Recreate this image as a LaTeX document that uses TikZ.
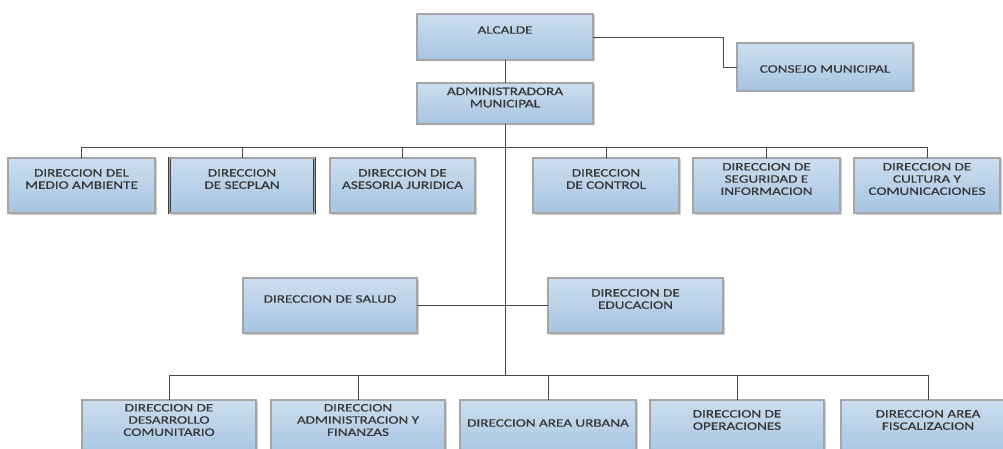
\documentclass[tikz,border=0pt]{standalone}
\usepackage{fontspec}
\newfontfamily\boxfont[FakeStretch=1.33,FakeBold=0.6]{Carlito}
\usetikzlibrary{shadows}
\definecolor{boxtop}{RGB}{204,222,239}
\definecolor{boxbot}{RGB}{166,196,225}
\definecolor{edge}{RGB}{62,62,62}
\definecolor{edgemid}{RGB}{165,165,165}
\definecolor{wirecol}{RGB}{70,70,70}
\definecolor{ink}{RGB}{55,55,55}
\tikzset{
  orgbox/.style={rectangle, inner sep=0pt, top color=boxtop, bottom color=boxbot,
    draw=edge, line width=0.85pt, double=edgemid, double distance=1.2pt,
    drop shadow={shadow xshift=1.5pt, shadow yshift=-1.5pt, opacity=0.3, fill=black!60}},
  orgtext/.style={align=center, text=ink, inner sep=0pt,
    font=\boxfont\fontsize{11.4}{12.2}\selectfont},
  wire/.style={draw=wirecol, line width=0.8pt}
}
\begin{document}
\begin{tikzpicture}[x=1pt, y=-1pt]
\useasboundingbox (0,0) rectangle (1003,449);
\clip (0,0) rectangle (1003,449);
\fill[white] (0,0) rectangle (1003,449);

% top level
\node[orgbox, minimum width=176pt, minimum height=46pt] (alc) at (505,37) {};
\node[orgbox, minimum width=176pt, minimum height=48pt] (cons) at (825,67) {};
\node[orgbox, minimum width=176pt, minimum height=41pt] (adm) at (505,103.5) {};

% first row of directorates
\node[orgbox, minimum width=147pt, minimum height=55pt] (amb) at (81.5,185.5) {};
\node[orgbox, minimum width=145pt, minimum height=55pt] (sec) at (242,185.5) {};
\node[orgbox, minimum width=145pt, minimum height=55pt] (jur) at (402.5,185.5) {};
\node[orgbox, minimum width=146pt, minimum height=55pt] (ctl) at (606,185.5) {};
\node[orgbox, minimum width=147pt, minimum height=55pt] (seg) at (766.5,185.5) {};
\node[orgbox, minimum width=146pt, minimum height=55pt] (cul) at (927,185.5) {};

% health and education
\node[orgbox, minimum width=174pt, minimum height=55pt] (sal) at (330,305.5) {};
\node[orgbox, minimum width=175pt, minimum height=55pt] (edu) at (635.5,305.5) {};

% bottom row
\node[orgbox, minimum width=174pt, minimum height=55pt] (des) at (169,427.5) {};
\node[orgbox, minimum width=174pt, minimum height=55pt] (fin) at (358,427.5) {};
\node[orgbox, minimum width=176pt, minimum height=55pt] (urb) at (548,427.5) {};
\node[orgbox, minimum width=174pt, minimum height=55pt] (ope) at (737,427.5) {};
\node[orgbox, minimum width=174pt, minimum height=55pt] (fis) at (928,427.5) {};

% labels
\node[orgtext] (talc) at (505,30) {ALCALDE};
\node[orgtext] (tcons) at (825,69) {CONSEJO MUNICIPAL};
\node[orgtext] (tadm) at (505,97.5) {ADMINISTRADORA\\MUNICIPAL};
\node[orgtext] (tamb) at (81.5,179) {DIRECCION DEL\\MEDIO AMBIENTE};
\node[orgtext] (tsec) at (242,179) {DIRECCION\\DE SECPLAN};
\node[orgtext] (tjur) at (402.5,179) {DIRECCION DE\\ASESORIA JURIDICA};
\node[orgtext] (tctl) at (606,179) {DIRECCION\\DE CONTROL};
\node[orgtext] (tseg) at (766.5,179) {DIRECCION DE\\SEGURIDAD E\\INFORMACION};
\node[orgtext] (tcul) at (927,179) {DIRECCION DE\\CULTURA Y\\COMUNICACIONES};
\node[orgtext] (tsal) at (330,299) {DIRECCION DE SALUD};
\node[orgtext] (tedu) at (635.5,299) {DIRECCION DE\\EDUCACION};
\node[orgtext] (tdes) at (169,420) {DIRECCION DE\\DESARROLLO\\COMUNITARIO};
\node[orgtext] (tfin) at (358,420) {DIRECCION\\ADMINISTRACION Y\\FINANZAS};
\node[orgtext] (turb) at (548,423) {DIRECCION AREA URBANA};
\node[orgtext] (tope) at (737,420) {DIRECCION DE\\OPERACIONES};
\node[orgtext] (tfis) at (928,420) {DIRECCION AREA\\FISCALIZACION};

% connectors
\coordinate (trunk) at (505,376);
\draw[wire] (alc.south) -- (adm.north);
\draw[wire] (alc.east) -- ++(130,0) |- (cons.west);
\draw[wire] (adm.south) -- (trunk);
\draw[wire] (amb.north) -- ++(0,-10) -| (cul.north);
\foreach \n in {sec,jur,ctl,seg} \draw[wire] (\n.north) -- ++(0,-10);
\draw[wire] (sal.east) -- (edu.west);
\draw[wire] (des.north) -- ++(0,-24) -| (fis.north);
\foreach \n in {fin,urb,ope} \draw[wire] (\n.north) -- ++(0,-24);
\end{tikzpicture}
\end{document}
